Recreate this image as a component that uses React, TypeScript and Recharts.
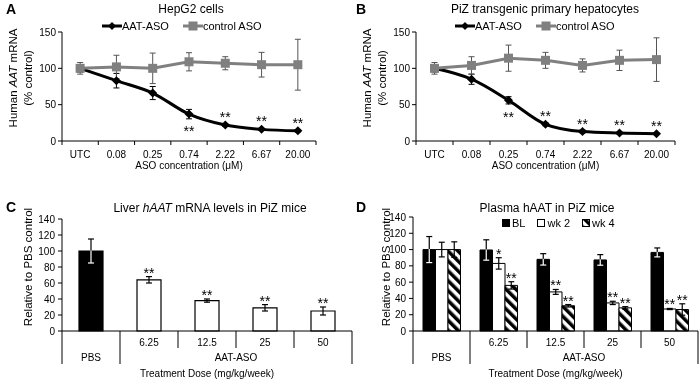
import React from 'react';
import {
  LineChart, Line, BarChart, Bar, XAxis, YAxis, ErrorBar, LabelList, Legend, Cell,
} from 'recharts';

const FONT = '"Liberation Sans", Arial, Helvetica, sans-serif';

// A + B: ASO dose response
const doseLabels = ['UTC', '0.08', '0.25', '0.74', '2.22', '6.67', '20.00'];

const hepAso = [100, 83, 66, 37, 22, 16, 14];
const hepAsoErr = [5, 10, 9, 6.5, 2, 1.5, 1.5];
const hepCtrl = [100, 102, 100, 109, 107, 105, 105];
const hepCtrlErr = [8, 16, 21, 12.5, 9, 17, 35];
const hepStars = ['', '', '', '**', '**', '**', '**'];
const hepStarBelow = [false, false, false, true, false, false, false];

const pizAso = [100, 85, 56, 23, 13, 11, 10];
const pizAsoErr = [5, 7, 5, 2, 2, 1, 1];
const pizCtrl = [100, 104, 114, 111, 104, 111, 112];
const pizCtrlErr = [8, 12, 18, 11, 9, 14, 30];
const pizStars = ['', '', '**', '**', '**', '**', '**'];
const pizStarBelow = [false, false, true, false, false, false, false];

const pctTicks = [0, 50, 100, 150];

// C + D: PiZ mice
const treatGroup = ['PBS', 'AAT-ASO', 'AAT-ASO', 'AAT-ASO', 'AAT-ASO'];
const doseMg = ['', '6.25', '12.5', '25', '50'];

const liverMrna = [100, 64, 38, 29, 25];
const liverErr = [15, 4, 2, 4, 5];
const liverStars = ['', '**', '**', '**', '**'];

const plasmaBL = [100, 99.5, 88, 87.3, 96.5];
const plasmaBLErr = [16, 12.5, 7, 6.5, 5.5];
const plasmaWk2 = [100, 83, 48, 34.5, 27];
const plasmaWk2Err = [9, 7, 3, 2, 0.7];
const plasmaWk4 = [100, 56, 31, 28.4, 26.4];
const plasmaWk4Err = [9.5, 4.5, 1.5, 1.5, 7];
const wk2Stars = ['', '*', '**', '**', '**'];
const wk4Stars = ['', '**', '**', '**', '**'];

const relTicks = [0, 20, 40, 60, 80, 100, 120, 140];

const halfTicks = (n: number) => Array.from({ length: n * 2 + 1 }, (_, i) => i / 2);

const groupSpans = (() => {
  const out: { name: string; center: number }[] = [];
  let start = 0;
  for (let i = 1; i <= treatGroup.length; i++) {
    if (i === treatGroup.length || treatGroup[i] !== treatGroup[start]) {
      out.push({ name: treatGroup[start], center: (start + i) / 2 });
      start = i;
    }
  }
  return out;
})();

function DoseTick(props: any) {
  const { x, y, payload } = props;
  const v = payload.value;
  if (Number.isInteger(v)) return <line x1={x} x2={x} y1={y} y2={y + 4} stroke="#000" />;
  return (
    <text x={x} y={y + 17} textAnchor="middle" fontSize={10} fontFamily={FONT} fill="#000">
      {doseLabels[Math.floor(v)]}
    </text>
  );
}

function TreatTick(props: any) {
  const { x, y, payload } = props;
  const v = payload.value;
  const parts: React.ReactNode[] = [];
  if (Number.isInteger(v)) {
    const edge = v === 0 || v === treatGroup.length || treatGroup[v] !== treatGroup[v - 1];
    parts.push(<line key="l" x1={x} x2={x} y1={y} y2={y + (edge ? 33 : 17)} stroke="#000" />);
  } else if (doseMg[Math.floor(v)]) {
    parts.push(
      <text key="d" x={x} y={y + 15} textAnchor="middle" fontSize={10} fontFamily={FONT} fill="#000">
        {doseMg[Math.floor(v)]}
      </text>,
    );
  }
  groupSpans.filter(g => g.center === v).forEach(g => parts.push(
    <text key={g.name} x={x} y={y + 30} textAnchor="middle" fontSize={10} fontFamily={FONT} fill="#000">
      {g.name}
    </text>,
  ));
  return <g>{parts}</g>;
}

const xTitle = (text: string, dy: number) => (props: any) => {
  const vb = props.viewBox || { x: 0, y: 0, width: 0 };
  return (
    <text x={vb.x + vb.width / 2} y={vb.y + dy} textAnchor="middle" fontSize={10} fontFamily={FONT} fill="#000">
      {text}
    </text>
  );
};

const yTitle = (lines: React.ReactNode[], dxs: number[], dy: number) => (props: any) => {
  const vb = props.viewBox || { x: 0, y: 0, width: 0, height: 0 };
  const cy = vb.y + vb.height / 2 + dy;
  return (
    <g>
      {lines.map((ln, i) => (
        <text
          key={i}
          transform={`translate(${vb.x + dxs[i]},${cy}) rotate(-90)`}
          textAnchor="middle"
          dominantBaseline="central"
          fontSize={11.5}
          fontFamily={FONT}
          fill="#000"
        >
          {ln}
        </text>
      ))}
    </g>
  );
};

const humanAat = [
  <>Human <tspan fontStyle="italic">AAT</tspan> mRNA</>,
  '(% control)',
];

const lineStars = (below: boolean[]) => (props: any) => {
  const { value, index } = props;
  if (!value) return null;
  const x = props.viewBox?.x ?? props.x;
  const y = props.viewBox?.y ?? props.y;
  return (
    <text x={x} y={below[index] ? y + 22 : y - 3} textAnchor="middle" fontSize={14} fontFamily={FONT} fill="#000">
      {value}
    </text>
  );
};

const barStars = (vals: number[], errs: number[]) => (props: any) => {
  const { value, index } = props;
  if (!value) return null;
  const vb = props.viewBox || props;
  const top = vb.y - (errs[index] * vb.height) / vals[index];
  return (
    <text x={vb.x + vb.width / 2} y={top + 1} textAnchor="middle" fontSize={14} fontFamily={FONT} fill="#000">
      {value}
    </text>
  );
};

const Diamond = (p: any) => (
  <path
    key={`d${p.index}`}
    d={`M${p.cx},${p.cy - 4.5}L${p.cx + 4.5},${p.cy}L${p.cx},${p.cy + 4.5}L${p.cx - 4.5},${p.cy}Z`}
    fill="#000"
  />
);
const Square = (p: any) => (
  <rect key={`s${p.index}`} x={p.cx - 4.5} y={p.cy - 4.5} width={9} height={9} fill="#808080" />
);

function LineLegend(props: any) {
  const items = props.payload || [];
  return (
    <div style={{ display: 'flex', alignItems: 'center', fontFamily: FONT, fontSize: 11, color: '#000', whiteSpace: 'nowrap' }}>
      {items.map((it: any, i: number) => (
        <span key={i} style={{ display: 'inline-flex', alignItems: 'center', marginRight: 14 }}>
          <svg width={20} height={10} style={{ display: 'block' }}>
            <line x1={0} x2={20} y1={5} y2={5} stroke={it.color} strokeWidth={3} />
            {it.dataKey === 'aso'
              ? <path d="M10,1L14,5L10,9L6,5Z" fill={it.color} />
              : <rect x={5.5} y={0.5} width={9} height={9} fill={it.color} />}
          </svg>
          <span>{it.value}</span>
        </span>
      ))}
    </div>
  );
}

function BarLegend(props: any) {
  const items = props.payload || [];
  return (
    <div style={{ display: 'flex', alignItems: 'center', fontFamily: FONT, fontSize: 11, color: '#000', whiteSpace: 'nowrap' }}>
      {items.map((it: any, i: number) => (
        <span key={i} style={{ display: 'inline-flex', alignItems: 'center', marginRight: 12 }}>
          <svg width={8} height={8} style={{ display: 'block', marginRight: 2 }}>
            <rect x={0.5} y={0.5} width={7} height={7} fill={it.payload?.fill ?? it.color} stroke="#000" />
          </svg>
          <span>{it.value}</span>
        </span>
      ))}
    </div>
  );
}

interface DosePanelProps {
  aso: number[]; asoErr: number[]; ctrl: number[]; ctrlErr: number[];
  stars: string[]; below: boolean[];
  yWidth: number; right: number; legendLeft: number; labelX: number[];
}

function DosePanel(p: DosePanelProps) {
  const data = doseLabels.map((d, i) => ({
    pos: i + 0.5, dose: d,
    aso: p.aso[i], asoErr: p.asoErr[i],
    ctrl: p.ctrl[i], ctrlErr: p.ctrlErr[i],
    stars: p.stars[i],
  }));
  return (
    <LineChart width={350} height={200} data={data} margin={{ top: 32, right: p.right, bottom: 0, left: 0 }}>
      <XAxis
        type="number" dataKey="pos" domain={[0, doseLabels.length]} ticks={halfTicks(doseLabels.length)}
        interval={0} tick={<DoseTick />} tickLine={false} tickSize={0} tickMargin={0}
        axisLine={{ stroke: '#000' }} height={59} label={xTitle('ASO concentration (μM)', 28)}
      />
      <YAxis
        type="number" domain={[0, 150]} ticks={pctTicks} interval={0} width={p.yWidth}
        tickSize={4} tickMargin={2} axisLine={{ stroke: '#000' }} tickLine={{ stroke: '#000' }}
        tick={{ fill: '#000', fontSize: 10, fontFamily: FONT }}
        label={yTitle(humanAat, p.labelX, -8.5)}
      />
      <Legend
        layout="horizontal" verticalAlign="middle" align="center"
        content={<LineLegend />} wrapperStyle={{ left: p.legendLeft, top: 20, width: 'auto' }}
      />
      <Line
        dataKey="aso" name="AAT-ASO" type="monotone" stroke="#000" strokeWidth={3}
        dot={Diamond} activeDot={false} isAnimationActive={false}
      >
        <ErrorBar dataKey="asoErr" width={3} strokeWidth={1} stroke="#000" direction="y" />
        <LabelList dataKey="stars" content={lineStars(p.below)} />
      </Line>
      <Line
        dataKey="ctrl" name="control ASO" type="linear" stroke="#808080" strokeWidth={3}
        dot={Square} activeDot={false} isAnimationActive={false}
      >
        <ErrorBar dataKey="ctrlErr" width={3} strokeWidth={1} stroke="#555" direction="y" />
      </Line>
    </LineChart>
  );
}

const invertErr = { mixBlendMode: 'difference' as const };

function LiverPanel() {
  const data = doseMg.map((d, i) => ({
    pos: i + 0.5, dose: d, group: treatGroup[i],
    val: liverMrna[i],
    errDark: treatGroup[i] === 'PBS' ? null : liverErr[i],
    errLight: treatGroup[i] === 'PBS' ? liverErr[i] : null,
    stars: liverStars[i],
  }));
  return (
    <BarChart width={356} height={193} data={data} margin={{ top: 24, right: 4, bottom: 0, left: 0 }}>
      <XAxis
        type="number" dataKey="pos" domain={[0, doseMg.length]} ticks={halfTicks(doseMg.length)}
        interval={0} tick={<TreatTick />} tickLine={false} tickSize={0} tickMargin={0}
        axisLine={{ stroke: '#000' }} height={57} label={xTitle('Treatment Dose (mg/kg/week)', 46)}
      />
      <YAxis
        type="number" domain={[0, 140]} ticks={relTicks} interval={0} width={62}
        tickSize={4} tickMargin={3} axisLine={{ stroke: '#000' }} tickLine={{ stroke: '#000' }}
        tick={{ fill: '#000', fontSize: 10, fontFamily: FONT }}
        label={yTitle(['Relative to PBS control'], [28], -8)}
      />
      <Bar dataKey="val" barSize={24} stroke="#000" strokeWidth={1.2} isAnimationActive={false}>
        {data.map((d, i) => <Cell key={i} fill={d.group === 'PBS' ? '#000' : '#fff'} />)}
        <ErrorBar dataKey="errDark" width={3} strokeWidth={1.2} stroke="#000" direction="y" />
        <ErrorBar dataKey="errLight" width={3} strokeWidth={1.2} stroke="#fff" style={invertErr} direction="y" />
        <LabelList dataKey="stars" content={barStars(liverMrna, liverErr)} />
      </Bar>
    </BarChart>
  );
}

function PlasmaPanel() {
  const data = doseMg.map((d, i) => ({
    pos: i + 0.5, dose: d,
    bl: plasmaBL[i], blErr: plasmaBLErr[i],
    wk2: plasmaWk2[i], wk2Err: plasmaWk2Err[i], wk2Stars: wk2Stars[i],
    wk4: plasmaWk4[i], wk4Err: plasmaWk4Err[i], wk4Stars: wk4Stars[i],
  }));
  return (
    <BarChart width={350} height={193} data={data} barGap={0} margin={{ top: 22, right: 2, bottom: 0, left: 0 }}>
      <XAxis
        type="number" dataKey="pos" domain={[0, doseMg.length]} ticks={halfTicks(doseMg.length)}
        interval={0} tick={<TreatTick />} tickLine={false} tickSize={0} tickMargin={0}
        axisLine={{ stroke: '#000' }} height={57} label={xTitle('Treatment Dose (mg/kg/week)', 46)}
      />
      <YAxis
        type="number" domain={[0, 140]} ticks={relTicks} interval={0} width={63}
        tickSize={4} tickMargin={3} axisLine={{ stroke: '#000' }} tickLine={{ stroke: '#000' }}
        tick={{ fill: '#000', fontSize: 10, fontFamily: FONT }}
        label={yTitle(['Relative to PBS control'], [36], -7)}
      />
      <Legend
        layout="horizontal" verticalAlign="middle" align="center"
        content={<BarLegend />} wrapperStyle={{ left: 152, top: 22, width: 'auto' }}
      />
      <Bar dataKey="bl" name="BL" barSize={12.5} fill="#000" stroke="#000" strokeWidth={1} isAnimationActive={false}>
        <ErrorBar dataKey="blErr" width={3} strokeWidth={1.2} stroke="#fff" style={invertErr} direction="y" />
      </Bar>
      <Bar dataKey="wk2" name="wk 2" barSize={12.5} fill="#fff" stroke="#000" strokeWidth={1} isAnimationActive={false}>
        <ErrorBar dataKey="wk2Err" width={3} strokeWidth={1.2} stroke="#000" direction="y" />
        <LabelList dataKey="wk2Stars" content={barStars(plasmaWk2, plasmaWk2Err)} />
      </Bar>
      <Bar dataKey="wk4" name="wk 4" barSize={12.5} fill="url(#hatch)" stroke="#000" strokeWidth={1} isAnimationActive={false}>
        <ErrorBar dataKey="wk4Err" width={3} strokeWidth={1.2} stroke="#000" direction="y" />
        <LabelList dataKey="wk4Stars" content={barStars(plasmaWk4, plasmaWk4Err)} />
      </Bar>
    </BarChart>
  );
}

const titleStyle = { fontFamily: FONT, fontSize: 12, fill: '#000' };
const letterStyle = { fontFamily: FONT, fontSize: 14, fontWeight: 700, fill: '#000' };

export default function App() {
  return (
    <div style={{ position: 'fixed', left: 0, top: 0, width: 700, height: 388, background: '#fff', overflow: 'hidden' }}>
      <svg width={0} height={0} style={{ position: 'absolute' }}>
        <defs>
          <pattern id="hatch" patternUnits="userSpaceOnUse" width={7} height={7} patternTransform="rotate(-45)">
            <rect width={7} height={7} fill="#fff" />
            <rect width={3.5} height={7} fill="#000" />
          </pattern>
        </defs>
      </svg>
      <div style={{ position: 'absolute', left: 0, top: 0 }}>
        <DosePanel
          aso={hepAso} asoErr={hepAsoErr} ctrl={hepCtrl} ctrlErr={hepCtrlErr}
          stars={hepStars} below={hepStarBelow} yWidth={62} right={34} legendLeft={102} labelX={[13, 27.5]}
        />
      </div>
      <div style={{ position: 'absolute', left: 350, top: 0 }}>
        <DosePanel
          aso={pizAso} asoErr={pizAsoErr} ctrl={pizCtrl} ctrlErr={pizCtrlErr}
          stars={pizStars} below={pizStarBelow} yWidth={66} right={25} legendLeft={105} labelX={[17, 31.5]}
        />
      </div>
      <div style={{ position: 'absolute', left: 0, top: 195 }}>
        <LiverPanel />
      </div>
      <div style={{ position: 'absolute', left: 350, top: 195 }}>
        <PlasmaPanel />
      </div>
      <svg width={700} height={388} style={{ position: 'absolute', left: 0, top: 0, pointerEvents: 'none' }}>
        <text x={6} y={14} style={letterStyle}>A</text>
        <text x={191} y={13} textAnchor="middle" style={titleStyle}>HepG2 cells</text>
        <text x={356} y={14} style={letterStyle}>B</text>
        <text x={545} y={13} textAnchor="middle" style={titleStyle}>PiZ transgenic primary hepatocytes</text>
        <text x={6} y={212} style={letterStyle}>C</text>
        <text x={210} y={212} textAnchor="middle" style={titleStyle}>
          Liver <tspan fontStyle="italic">hAAT</tspan> mRNA levels in PiZ mice
        </text>
        <text x={356} y={212} style={letterStyle}>D</text>
        <text x={547} y={212} textAnchor="middle" style={titleStyle}>Plasma hAAT in PiZ mice</text>
      </svg>
    </div>
  );
}
